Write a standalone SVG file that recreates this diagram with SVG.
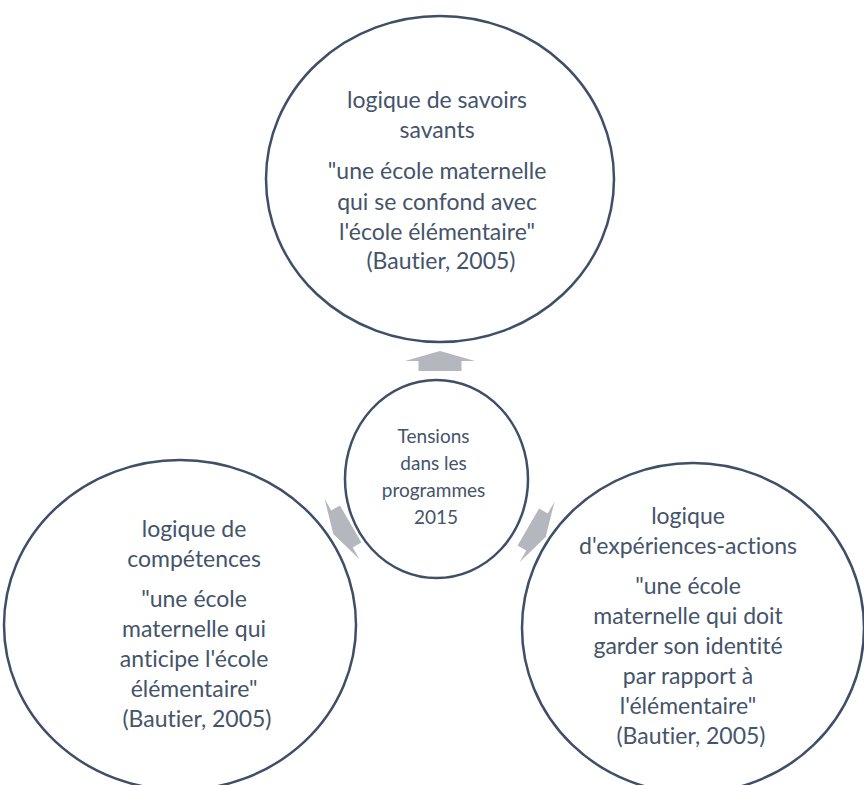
<svg xmlns="http://www.w3.org/2000/svg" width="864" height="785" viewBox="0 0 864 785">
  <style>
    .bubble { fill: #ffffff; stroke: #3e4f66; stroke-width: 2.5; }
    .label { font-family: "Lato", "Open Sans", sans-serif; fill: #44546a; text-anchor: middle; font-variant-ligatures: none; }
    .big { font-size: 23px; }
    .small { font-size: 19px; }
    .arrow { fill: #b4b7be; }
  </style>
  <defs>
    <path id="blockArrow" d="M0,-10 L35,0 L21.5,0 L21.5,10 L-21.5,10 L-21.5,0 L-35,0 Z"/>
  </defs>
  <rect width="864" height="785" fill="#ffffff"/>

  <!-- arrows from the centre towards the three outer bubbles -->
  <g id="connectors">
    <use href="#blockArrow" class="arrow" transform="translate(440,361)"/>
    <use href="#blockArrow" class="arrow" transform="translate(342,529) rotate(-120)"/>
    <use href="#blockArrow" class="arrow" transform="translate(537,532) rotate(120)"/>
  </g>

  <g id="savoirs">
    <ellipse class="bubble" cx="440" cy="179" rx="174" ry="163"/>
    <text class="label big">
      <tspan x="440" y="108">logique de savoirs</tspan>
      <tspan x="440" y="138">savants</tspan>
      <tspan x="440" y="179">"une école maternelle</tspan>
      <tspan x="440" y="210">qui se confond avec</tspan>
      <tspan x="440" y="240">l'école élémentaire"</tspan>
      <tspan x="441" y="269">(Bautier, 2005)</tspan>
    </text>
  </g>

  <g id="tensions">
    <ellipse class="bubble" cx="436.5" cy="479" rx="91.5" ry="99"/>
    <text class="label small">
      <tspan x="436" y="443">Tensions</tspan>
      <tspan x="436" y="470">dans les</tspan>
      <tspan x="436" y="497">programmes</tspan>
      <tspan x="436" y="524">2015</tspan>
    </text>
  </g>

  <g id="competences">
    <ellipse class="bubble" cx="180" cy="625" rx="176" ry="165"/>
    <text class="label big">
      <tspan x="197" y="537">logique de</tspan>
      <tspan x="197" y="567">compétences</tspan>
      <tspan x="197" y="607">"une école</tspan>
      <tspan x="197" y="637">maternelle qui</tspan>
      <tspan x="197" y="667">anticipe l'école</tspan>
      <tspan x="197" y="697">élémentaire"</tspan>
      <tspan x="197" y="727">(Bautier, 2005)</tspan>
    </text>
  </g>

  <g id="experiences">
    <ellipse class="bubble" cx="693" cy="628" rx="171" ry="165"/>
    <text class="label big">
      <tspan x="691" y="524">logique</tspan>
      <tspan x="691" y="554">d'expériences-actions</tspan>
      <tspan x="691" y="594">"une école</tspan>
      <tspan x="691" y="624">maternelle qui doit</tspan>
      <tspan x="691" y="654">garder son identité</tspan>
      <tspan x="691" y="684">par rapport à</tspan>
      <tspan x="691" y="714">l'élémentaire"</tspan>
      <tspan x="691" y="744">(Bautier, 2005)</tspan>
    </text>
  </g>
</svg>
